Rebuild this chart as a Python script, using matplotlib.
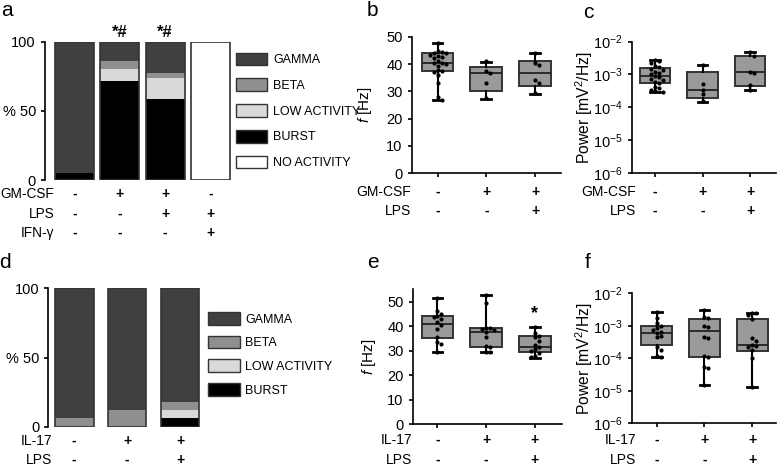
import numpy as np
import matplotlib
matplotlib.use('Agg')
from matplotlib import pyplot as plt
from matplotlib.patches import Patch
from matplotlib.transforms import blended_transform_factory

plt.rcParams['font.family'] = ['Liberation Sans', 'DejaVu Sans']
plt.rcParams['mathtext.fontset'] = 'custom'
plt.rcParams['mathtext.rm'] = 'Liberation Sans'
plt.rcParams['mathtext.it'] = 'Liberation Sans:italic'
plt.rcParams['font.size'] = 10

# ---- data ----
# panel a: activity pattern (%)
a_burst = [4.8, 71.8, 58.3, 0]
a_low = [0, 8.4, 15.2, 0]
a_beta = [0, 5.8, 3.6, 0]
a_gamma = [95.2, 14.0, 22.9, 0]
a_none = [0, 0, 0, 100]
a_marks = ['', '*#', '*#', '']
a_gmcsf = ['-', '+', '+', '-']
a_lps = ['-', '-', '+', '+']
a_ifn = ['-', '-', '-', '+']

# panel d
d_burst = [0, 0, 6]
d_low = [0, 0, 6]
d_beta = [6.5, 12, 6]
d_gamma = [93.5, 88, 82]
d_il17 = ['-', '+', '+']
d_lps = ['-', '-', '+']

# panel b: gamma frequency (Hz)
b_q1 = [37.5, 30.1, 32.0]
b_med = [40.6, 36.6, 36.6]
b_q3 = [44.0, 39.1, 41.2]
b_lo = [26.8, 27.2, 29.0]
b_hi = [47.7, 40.9, 44.0]
b_pts = [
    [47.8, 44.8, 44.6, 44.3, 44.0, 43.5, 43.0, 42.5, 42.2, 41.0, 40.6,
     40.3, 39.9, 39.5, 38.0, 37.5, 37.0, 36.2, 33.0, 28.0, 27.0],
    [41.0, 37.6, 36.6, 33.0, 27.5],
    [44.0, 40.3, 39.8, 34.2, 33.0, 29.3],
]

# panel c: power (mV^2/Hz)
c_q1 = [5.3e-4, 1.95e-4, 4.4e-4]
c_med = [8.9e-4, 3.4e-4, 1.17e-3]
c_q3 = [1.55e-3, 1.2e-3, 3.7e-3]
c_lo = [2.9e-4, 1.48e-4, 3.4e-4]
c_hi = [2.8e-3, 2.0e-3, 4.8e-3]
c_pts = [
    [2.7e-3, 2.5e-3, 2.2e-3, 1.8e-3, 1.7e-3, 1.5e-3, 1.4e-3, 1.2e-3, 1.1e-3,
     1.0e-3, 9e-4, 8.2e-4, 7.5e-4, 6.8e-4, 6.0e-4, 5.4e-4, 4.2e-4, 3.8e-4,
     3.4e-4, 3.1e-4, 2.9e-4],
    [2.0e-3, 5.1e-4, 3.4e-4, 2.5e-4, 1.5e-4],
    [4.7e-3, 3.7e-3, 1.2e-3, 1.1e-3, 4.6e-4, 3.4e-4],
]
bc_gmcsf = ['-', '+', '+']
bc_lps = ['-', '-', '+']

# panel e
e_q1 = [35.3, 31.6, 29.2]
e_med = [40.9, 37.7, 31.6]
e_q3 = [43.9, 39.1, 36.0]
e_lo = [29.3, 29.3, 27.1]
e_hi = [51.4, 52.7, 39.8]
e_pts = [
    [51.4, 46.3, 44.8, 44.1, 43.5, 42.8, 41.8, 40.5, 38.6, 35.4, 33.6, 32.7, 29.3],
    [52.7, 49.3, 39.4, 39.1, 38.8, 38.5, 37.7, 35.7, 32.0, 31.5, 29.5, 29.3],
    [39.8, 37.1, 36.1, 35.4, 34.0, 32.3, 31.3, 30.5, 29.8, 28.9, 27.8, 27.3],
]

# panel f
f_q1 = [2.5e-4, 1.07e-4, 1.7e-4]
f_med = [6.1e-4, 6.9e-4, 2.5e-4]
f_q3 = [1.0e-3, 1.6e-3, 1.6e-3]
f_lo = [1.1e-4, 1.5e-5, 1.3e-5]
f_hi = [2.7e-3, 3.1e-3, 2.4e-3]
f_pts = [
    [2.7e-3, 1.7e-3, 1.25e-3, 9.8e-4, 8.3e-4, 7.4e-4, 6.6e-4, 5.9e-4, 4.9e-4,
     4.4e-4, 2.3e-4, 1.8e-4, 1.2e-4, 1.1e-4],
    [3.0e-3, 1.9e-3, 1.7e-3, 1.0e-3, 9.5e-4, 4.4e-4, 4.2e-4, 1.2e-4, 1.1e-4,
     5.3e-5, 5.2e-5, 1.5e-5],
    [2.5e-3, 2.4e-3, 2.2e-3, 1.6e-3, 4.1e-4, 3.5e-4, 2.6e-4, 2.4e-4, 2.2e-4,
     1.8e-4, 1.05e-4, 1.3e-5],
]
ef_il17 = ['-', '+', '+']
ef_lps = ['-', '-', '+']

# ---- style ----
C_GAMMA = '#404040'
C_BETA = '#8f8f8f'
C_LOW = '#d9d9d9'
C_BURST = '#000000'
C_NONE = '#ffffff'
EDGE = '#333333'
BOX_FILL = '#9a9a9a'

W, H = 778, 466
fig = plt.figure(figsize=(W / 100, H / 100), dpi=100)


def px_axes(left, top, right, bottom):
    # axes from pixel box of the reference layout
    return fig.add_axes([left / W, 1 - bottom / H, (right - left) / W, (bottom - top) / H])


def swarm(vals, ppu_y, ppu_x, diam=4.2):
    # simple beeswarm offsets so points don't sit on top of each other
    vals = np.asarray(vals, dtype=float)
    order = np.argsort(vals)[::-1]
    placed = []
    offs = np.zeros(len(vals))
    for i in order:
        y = vals[i] * ppu_y
        for k in [0, 1, -1, 2, -2, 3, -3, 4, -4]:
            x = k * diam * 0.95
            if all((x - px) ** 2 + (y - py) ** 2 >= (diam * 0.95) ** 2 for py, px in placed):
                break
        placed.append((y, x))
        offs[i] = x / ppu_x
    return offs


def stacked_bars(ax, layers, width):
    x = np.arange(len(layers[0][0]))
    bottom = np.zeros(len(x))
    for vals, col in layers:
        ax.bar(x, vals, width, bottom=bottom, color=col, linewidth=0)
        bottom += np.asarray(vals)
    ax.bar(x, bottom, width, fill=False, edgecolor=EDGE, linewidth=1.2)
    ax.set_ylim(0, 100)
    ax.set_yticks([0, 50, 100])
    ax.set_yticklabels(['0', '% 50', '100'])
    for s in ['top', 'right', 'bottom']:
        ax.spines[s].set_visible(False)
    ax.spines['left'].set_linewidth(1.2)
    ax.tick_params(axis='x', bottom=False, labelbottom=False)
    ax.tick_params(axis='y', length=3, width=1.2, labelsize=10.5)


def box_panel(ax, q1, med, q3, lo, hi, pts, log, ppu_y, ppu_x):
    stats = [dict(q1=a, med=m, q3=b, whislo=l, whishi=h)
             for a, m, b, l, h in zip(q1, med, q3, lo, hi)]
    ax.bxp(stats, positions=[1, 2, 3], widths=0.65, patch_artist=True, showfliers=False,
           boxprops=dict(facecolor=BOX_FILL, edgecolor=EDGE, linewidth=1.4),
           medianprops=dict(color='#222222', linewidth=1.3),
           whiskerprops=dict(color='black', linewidth=1.5),
           capprops=dict(color='black', linewidth=2), capwidths=0.2)
    for i, p in enumerate(pts):
        v = np.log10(p) if log else np.asarray(p)
        xs = i + 1 + swarm(v, ppu_y, ppu_x)
        ax.scatter(xs, p, s=9, color='black', zorder=4, linewidths=0)
    if log:
        ax.set_yscale('log')
        ax.set_ylim(1e-6, 1e-2)
        ax.set_yticks([1e-6, 1e-5, 1e-4, 1e-3, 1e-2])
        ax.minorticks_off()
    for s in ['top', 'right']:
        ax.spines[s].set_visible(False)
    for s in ['left', 'bottom']:
        ax.spines[s].set_linewidth(1.2)
    ax.set_xticks([1, 2, 3])
    ax.set_xticklabels([])
    ax.tick_params(axis='x', length=3, width=1.2)
    ax.tick_params(axis='y', length=3, width=1.2, labelsize=10.5)


def rows_under(ax, rows, ys, label_x, x0, fs=10):
    # +/- treatment table under an axis; ys in figure pixels
    tr = blended_transform_factory(ax.transData, fig.transFigure)
    for (name, signs), y in zip(rows, ys):
        fig.text(label_x / W, 1 - y / H, name, ha='right', va='center', fontsize=fs)
        for i, s in enumerate(signs):
            ax.text(x0 + i, 1 - y / H, s, transform=tr, ha='center', va='center',
                    fontsize=10, fontweight='bold')


def bar_legend(ax, labels, colors, top, left, spacing):
    handles = [Patch(facecolor=c, edgecolor=EDGE, linewidth=1.0) for c in colors]
    ax.legend(handles, labels, loc='upper left', bbox_to_anchor=(left / W, 1 - top / H),
              bbox_transform=fig.transFigure, frameon=False, borderpad=0, borderaxespad=0,
              handlelength=2.5, handleheight=1.2, labelspacing=spacing, handletextpad=0.45,
              fontsize=9)


# ---- panel a ----
ax_a = px_axes(45, 41.7, 233.1, 180)
stacked_bars(ax_a, [(a_burst, C_BURST), (a_low, C_LOW), (a_beta, C_BETA),
                    (a_gamma, C_GAMMA), (a_none, C_NONE)], 0.86)
ax_a.set_xlim(-0.65, 3.5)
for i, m in enumerate(a_marks):
    if m:
        ax_a.text(i, 106.5, m, ha='center', va='center', fontsize=12, fontweight='bold',
                  clip_on=False)
bar_legend(ax_a, ['GAMMA', 'BETA', 'LOW ACTIVITY', 'BURST', 'NO ACTIVITY'],
           [C_GAMMA, C_BETA, C_LOW, C_BURST, C_NONE], 52.5, 236, 0.97)
rows_under(ax_a, [('GM-CSF', a_gmcsf), ('LPS', a_lps), ('IFN-γ', a_ifn)],
           [194, 214, 233], 54.5, 0, fs=9.8)

# ---- panel d ----
ax_d = px_axes(48.3, 288.3, 206.5, 426.7)
stacked_bars(ax_d, [(d_burst, C_BURST), (d_low, C_LOW), (d_beta, C_BETA),
                    (d_gamma, C_GAMMA)], 0.73)
ax_d.set_xlim(-0.49, 2.5)
bar_legend(ax_d, ['GAMMA', 'BETA', 'LOW ACTIVITY', 'BURST'],
           [C_GAMMA, C_BETA, C_LOW, C_BURST], 312, 208.3, 0.8)
rows_under(ax_d, [('IL-17', d_il17), ('LPS', d_lps)], [440.7, 460], 52, 0)

# ---- panel b ----
ax_b = px_axes(411.7, 37, 561, 173)
box_panel(ax_b, b_q1, b_med, b_q3, b_lo, b_hi, b_pts, False, 2.72, 48.75)
ax_b.set_xlim(0.47, 3.53)
ax_b.set_ylim(0, 50)
ax_b.set_yticks([0, 10, 20, 30, 40, 50])
ax_b.set_ylabel('$f$ [Hz]', fontsize=11)
ax_b.yaxis.set_label_coords((374 - 411.7) / 149.3, 0.5)
rows_under(ax_b, [('GM-CSF', bc_gmcsf), ('LPS', bc_lps)], [192, 211], 411, 1)

# ---- panel c ----
ax_c = px_axes(631.7, 41.7, 776, 172.7)
box_panel(ax_c, c_q1, c_med, c_q3, c_lo, c_hi, c_pts, True, 32.75, 47.5)
ax_c.set_xlim(0.509, 3.547)
ax_c.set_ylabel('Power [mV$^2$/Hz]', fontsize=11.3)
ax_c.yaxis.set_label_coords((595 - 631.7) / 144.3, 0.5)
rows_under(ax_c, [('GM-CSF', bc_gmcsf), ('LPS', bc_lps)], [192, 211], 636, 1)

# ---- panel e ----
ax_e = px_axes(412.7, 289.3, 561.7, 424)
box_panel(ax_e, e_q1, e_med, e_q3, e_lo, e_hi, e_pts, False, 2.447, 48.75)
ax_e.set_xlim(0.491, 3.55)
ax_e.set_ylim(0, 55)
ax_e.set_yticks([0, 10, 20, 30, 40, 50])
ax_e.text(3, 45, '*', ha='center', va='center', fontsize=13, fontweight='bold')
ax_e.set_ylabel('$f$ [Hz]', fontsize=11)
ax_e.yaxis.set_label_coords((378 - 412.7) / 149, 0.5)
rows_under(ax_e, [('IL-17', ef_il17), ('LPS', ef_lps)], [440, 460], 412, 1)

# ---- panel f ----
ax_f = px_axes(631.7, 293.3, 776, 423.3)
box_panel(ax_f, f_q1, f_med, f_q3, f_lo, f_hi, f_pts, True, 32.5, 47.65)
ax_f.set_xlim(0.475, 3.5)
ax_f.set_ylabel('Power [mV$^2$/Hz]', fontsize=11.3)
ax_f.yaxis.set_label_coords((595 - 631.7) / 144.3, 0.5)
rows_under(ax_f, [('IL-17', ef_il17), ('LPS', ef_lps)], [440, 460], 636, 1)

# panel letters
for letter, x, y in [('a', 7, 10), ('b', 372, 10), ('c', 588, 12),
                     ('d', 5, 263), ('e', 373, 263), ('f', 588, 262)]:
    fig.text(x / W, 1 - y / H, letter, ha='center', va='center', fontsize=15)

fig.savefig('out.png', dpi=100)
